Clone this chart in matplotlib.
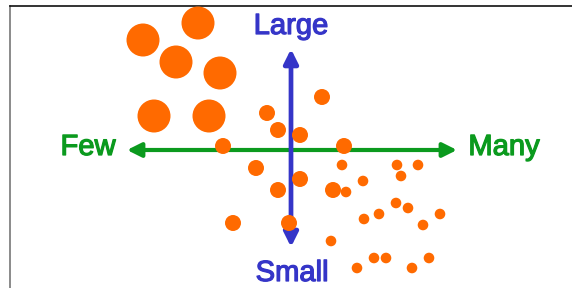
import matplotlib
matplotlib.use("Agg")
import matplotlib.pyplot as plt
import matplotlib.patheffects as pe
from matplotlib.patches import Circle

# Bubble data: x = "how many" position, y = "how large" position, r = bubble radius
large_x = [143, 198, 176, 220, 154, 209]
large_y = [40, 23, 62, 73, 116, 116]
large_r = [16.5, 16.5, 16.5, 16.5, 16.5, 16.5]

medium_x = [267, 322, 278, 300, 223, 344, 256, 300, 278, 333, 233, 289]
medium_y = [113, 97, 130, 135, 146, 146, 168, 179, 190, 190, 223, 223]
medium_r = [8, 8, 8, 8, 8, 8, 8, 8, 8, 8, 8, 8]

small_x = [342, 346, 363, 397, 418, 401, 396, 408, 379, 364, 440, 423, 331, 374, 386, 429, 357, 412]
small_y = [165, 192, 181, 165, 165, 176, 203, 208, 214, 219, 214, 225, 241, 258, 258, 258, 268, 268]
small_r = [5.3] * 18

axis_labels = {"left": "Few", "right": "Many", "top": "Large", "bottom": "Small"}
h_axis = (127, 457, 150)   # x start, x end, y
v_axis = (291, 49, 247)    # x, y top, y bottom

ORANGE = "#ff6a00"
BLUE = "#3535c8"
GREEN = "#0b9a1e"

fig = plt.figure(figsize=(5.72, 2.88), dpi=100)
ax = fig.add_axes([10 / 572, 0, 562 / 572, 282 / 288])
ax.set_xlim(10, 572)
ax.set_ylim(288, 6)
ax.set_xticks([])
ax.set_yticks([])
ax.spines["right"].set_visible(False)
ax.spines["bottom"].set_visible(False)
ax.spines["top"].set_color("#111111")
ax.spines["top"].set_linewidth(1.2)
ax.spines["left"].set_color("#777777")
ax.spines["left"].set_linewidth(1.2)

for xs, ys, rs in [(large_x, large_y, large_r), (medium_x, medium_y, medium_r), (small_x, small_y, small_r)]:
    for x, y, r in zip(xs, ys, rs):
        ax.add_patch(Circle((x, y), r, facecolor=ORANGE, edgecolor="none", zorder=5))

ax.annotate("", xy=(h_axis[0], h_axis[2]), xytext=(h_axis[1], h_axis[2]),
            arrowprops=dict(arrowstyle="<|-|>", color=GREEN, lw=3.0,
                            mutation_scale=21, shrinkA=0, shrinkB=0), zorder=2)
ax.annotate("", xy=(v_axis[0], v_axis[1]), xytext=(v_axis[0], v_axis[2]),
            arrowprops=dict(arrowstyle="<|-|>", color=BLUE, lw=3.4,
                            mutation_scale=21, shrinkA=0, shrinkB=0), zorder=3)

fam = ["Liberation Sans", "DejaVu Sans"]
fs = 21
for txt, x, y, col in [(axis_labels["left"], 88, 155, GREEN),
                       (axis_labels["right"], 504, 155, GREEN),
                       (axis_labels["top"], 291, 34, BLUE),
                       (axis_labels["bottom"], 292, 281, BLUE)]:
    ax.text(x, y, txt, color=col, fontsize=fs, ha="center", va="baseline", family=fam,
            path_effects=[pe.withStroke(linewidth=0.9, foreground=col)])

fig.savefig("out.png", dpi=100)
